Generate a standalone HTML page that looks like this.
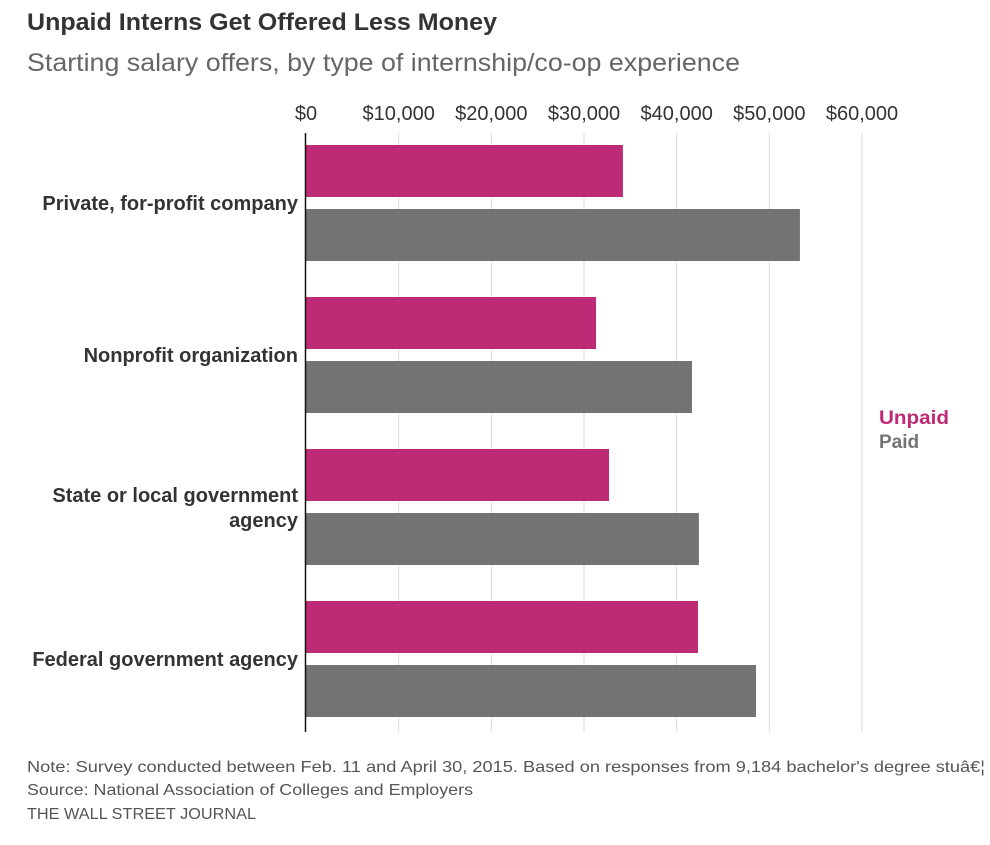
<!DOCTYPE html>
<html><head><meta charset="utf-8"><style>
body{margin:0;background:#fff;font-family:"Liberation Sans",sans-serif;}
svg text{font-family:"Liberation Sans",sans-serif;}
</style></head><body>
<svg width="990" height="840" xmlns="http://www.w3.org/2000/svg">
<text x="27" y="30" font-size="24" font-weight="bold" fill="#333" textLength="470" lengthAdjust="spacingAndGlyphs">Unpaid Interns Get Offered Less Money</text>
<text x="27" y="71" font-size="25" fill="#666" textLength="713" lengthAdjust="spacingAndGlyphs">Starting salary offers, by type of internship/co-op experience</text>
<g id="grid"></g><g id="bars"></g><g id="labels"></g>
<line x1="305.5" y1="133" x2="305.5" y2="732" stroke="#111" stroke-width="1.5"/>
<text x="879" y="424" font-size="19" font-weight="bold" fill="#bd2a75" textLength="70" lengthAdjust="spacingAndGlyphs">Unpaid</text>
<text x="879" y="448" font-size="19" font-weight="bold" fill="#737373">Paid</text>
<text x="27" y="772" font-size="16" fill="#555" textLength="958" lengthAdjust="spacingAndGlyphs">Note: Survey conducted between Feb. 11 and April 30, 2015. Based on responses from 9,184 bachelor's degree stuâ€¦</text>
<text x="27" y="795" font-size="16" fill="#555" textLength="446" lengthAdjust="spacingAndGlyphs">Source: National Association of Colleges and Employers</text>
<text x="27" y="819" font-size="16" fill="#555" textLength="229" lengthAdjust="spacingAndGlyphs">THE WALL STREET JOURNAL</text>
</svg>
<script>
const categories=[["Private, for-profit company"],["Nonprofit organization"],["State or local government","agency"],["Federal government agency"]];
const unpaid=[34200,31300,32700,42300];
const paid=[53300,41650,42400,48560];
const ticks=[0,10000,20000,30000,40000,50000,60000];
const tickLabels=["$0","$10,000","$20,000","$30,000","$40,000","$50,000","$60,000"];
const NS="http://www.w3.org/2000/svg";
const x=v=>306+v*(556/60000);
const y=i=>145+i*152;
function mk(tag,attrs,parent,text){const e=document.createElementNS(NS,tag);for(const k in attrs)e.setAttribute(k,attrs[k]);if(text!==undefined)e.textContent=text;document.getElementById(parent).appendChild(e);return e;}
ticks.forEach((t,i)=>{
 if(t>0){const l=mk('line',{x1:x(t),x2:x(t),y1:133,y2:732,stroke:'#ddd','stroke-width':1},'grid');
 
 }
 const tx=mk('text',{x:x(t),y:120,'font-size':20,fill:'#333','text-anchor':'middle'},'grid',tickLabels[i]);
 
 
});
categories.forEach((c,i)=>{
 const b1=mk('rect',{x:306,y:y(i),width:x(unpaid[i])-306,height:52,fill:'#bd2a75'},'bars');
 
 
 const b2=mk('rect',{x:306,y:y(i)+64,width:x(paid[i])-306,height:52,fill:'#737373'},'bars');
 
 
 const cy=y(i)+58;
 c.forEach((line,j)=>{
  const ly=c.length===1?cy+7:cy-5+j*25;
  const t=mk('text',{x:298,y:ly,'font-size':20,'font-weight':'bold',fill:'#333','text-anchor':'end'},'labels',line);
  
  
 });
});
</script>
</body></html>
